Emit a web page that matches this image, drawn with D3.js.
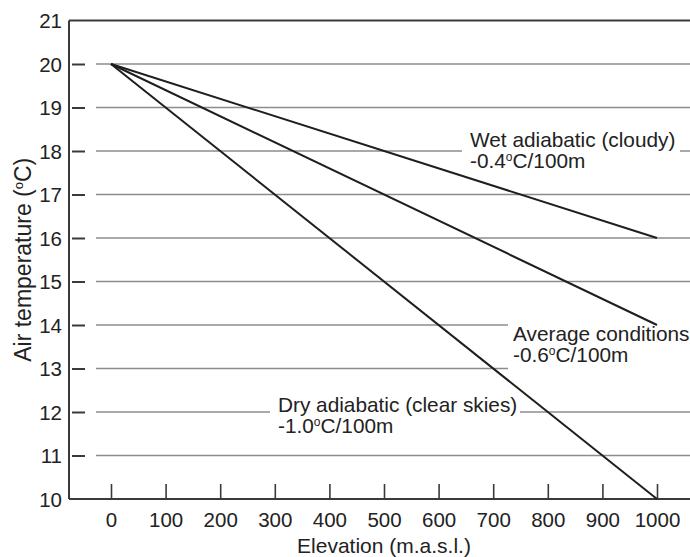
<!DOCTYPE html>
<html>
<head>
<meta charset="utf-8">
<script src="https://cdn.jsdelivr.net/npm/d3@7/dist/d3.min.js"></script>
<style>
  html, body { margin: 0; padding: 0; background: #fff; }
  svg { display: block; }
  text { font-family: "Liberation Sans", Arial, sans-serif; fill: #222; }
</style>
</head>
<body>
<svg id="chart" width="690" height="557"></svg>
<script>
// ---- data ----
const elevations = [0, 1000];
const wetValues = [20, 16];
const averageValues = [20, 14];
const dryValues = [20, 10];
const xTickValues = [0, 100, 200, 300, 400, 500, 600, 700, 800, 900, 1000];
const yTickValues = [10, 11, 12, 13, 14, 15, 16, 17, 18, 19, 20, 21];
const gridValues = [11, 12, 13, 14, 15, 16, 17, 18, 19, 20];
const seriesNames = ["Wet adiabatic (cloudy)", "Average conditions", "Dry adiabatic (clear skies)"];
const seriesRates = ["-0.4", "-0.6", "-1.0"];

const W = 690, H = 557;
const svg = d3.select("#chart");

const x = d3.scaleLinear().domain([0, 1000]).range([111, 657]);
const y = d3.scaleLinear().domain([10, 21]).range([499, 20.5]);

const axisX = 69, rightX = 690;
const gridColor = "#8c8c8c", axisColor = "#3a3a3a", lineColor = "#1e1e1e";

// gridlines
svg.append("g").selectAll("line").data(gridValues).join("line")
  .attr("x1", 96).attr("x2", rightX)
  .attr("y1", d => y(d)).attr("y2", d => y(d))
  .attr("stroke", gridColor).attr("stroke-width", 1.6);

// white boxes behind labels (interrupt gridlines)
const boxes = [
  {x0: 462, x1: 680, y0: 128, y1: 172},
  {x0: 508, x1: 690, y0: 318, y1: 374},
  {x0: 270, x1: 520, y0: 393, y1: 440}
];
svg.append("g").selectAll("rect").data(boxes).join("rect")
  .attr("x", d => d.x0).attr("y", d => d.y0)
  .attr("width", d => d.x1 - d.x0).attr("height", d => d.y1 - d.y0)
  .attr("fill", "#fff");

// frame: left axis, top line, baseline
svg.append("line").attr("x1", axisX).attr("x2", axisX)
  .attr("y1", y(21)).attr("y2", y(10))
  .attr("stroke", axisColor).attr("stroke-width", 2);
svg.append("line").attr("x1", axisX).attr("x2", rightX)
  .attr("y1", y(21)).attr("y2", y(21))
  .attr("stroke", axisColor).attr("stroke-width", 2);
svg.append("line").attr("x1", axisX).attr("x2", rightX)
  .attr("y1", y(10)).attr("y2", y(10))
  .attr("stroke", axisColor).attr("stroke-width", 2);

// y axis (ticks offset from the axis line)
const yAxis = d3.axisLeft(y).tickValues(yTickValues).tickSize(13).tickPadding(10)
  .tickFormat(d3.format("d"));
const gy = svg.append("g").attr("transform", "translate(85,0)").call(yAxis);
gy.select(".domain").remove();
gy.selectAll(".tick line").attr("stroke", axisColor).attr("stroke-width", 2)
  .attr("display", d => (d === 10 || d === 21) ? "none" : null);
gy.selectAll(".tick text").style("font-size", "20.5px").attr("fill", "#222")
  .style("font-family", "'Liberation Sans', Arial, sans-serif").attr("dy", "0.35em");

// x axis (ticks pointing up)
const xAxis = d3.axisBottom(x).tickValues(xTickValues).tickSizeInner(-15).tickSizeOuter(0)
  .tickPadding(13).tickFormat(d3.format("d"));
const gx = svg.append("g").attr("transform", `translate(0,${y(10)})`).call(xAxis);
gx.select(".domain").remove();
gx.selectAll(".tick line").attr("stroke", axisColor).attr("stroke-width", 1.6);
gx.selectAll(".tick text").style("font-size", "20.5px").attr("fill", "#222")
  .style("font-family", "'Liberation Sans', Arial, sans-serif");

// data lines
const line = d3.line().x((d, i) => x(elevations[i])).y(d => y(d));
[wetValues, averageValues, dryValues].forEach(vals => {
  svg.append("path").datum(vals).attr("d", line)
    .attr("fill", "none").attr("stroke", lineColor).attr("stroke-width", 2);
});

// labels
const labelPos = [
  {x: 470, y1: 147, y2: 168},
  {x: 513, y1: 341, y2: 362},
  {x: 278, y1: 412, y2: 433}
];
seriesNames.forEach((name, i) => {
  const p = labelPos[i];
  svg.append("text").attr("x", p.x).attr("y", p.y1).style("font-size", "20.8px").text(name);
  const t = svg.append("text").attr("x", p.x).attr("y", p.y2).style("font-size", "20.8px");
  t.append("tspan").text(seriesRates[i]);
  t.append("tspan").attr("dy", -7).style("font-size", "12px").text("o");
  t.append("tspan").attr("dy", 7).text("C/100m");
});

// axis titles
svg.append("text").attr("x", x(500)).attr("y", 553).attr("text-anchor", "middle")
  .style("font-size", "21px").text("Elevation (m.a.s.l.)");
const yt = svg.append("text")
  .attr("transform", `translate(31,${(y(10) + y(21)) / 2}) rotate(-90)`)
  .attr("text-anchor", "middle").style("font-size", "23px");
yt.append("tspan").text("Air temperature (");
yt.append("tspan").attr("dy", -8).style("font-size", "13px").text("o");
yt.append("tspan").attr("dy", 8).text("C)");
</script>
</body>
</html>
